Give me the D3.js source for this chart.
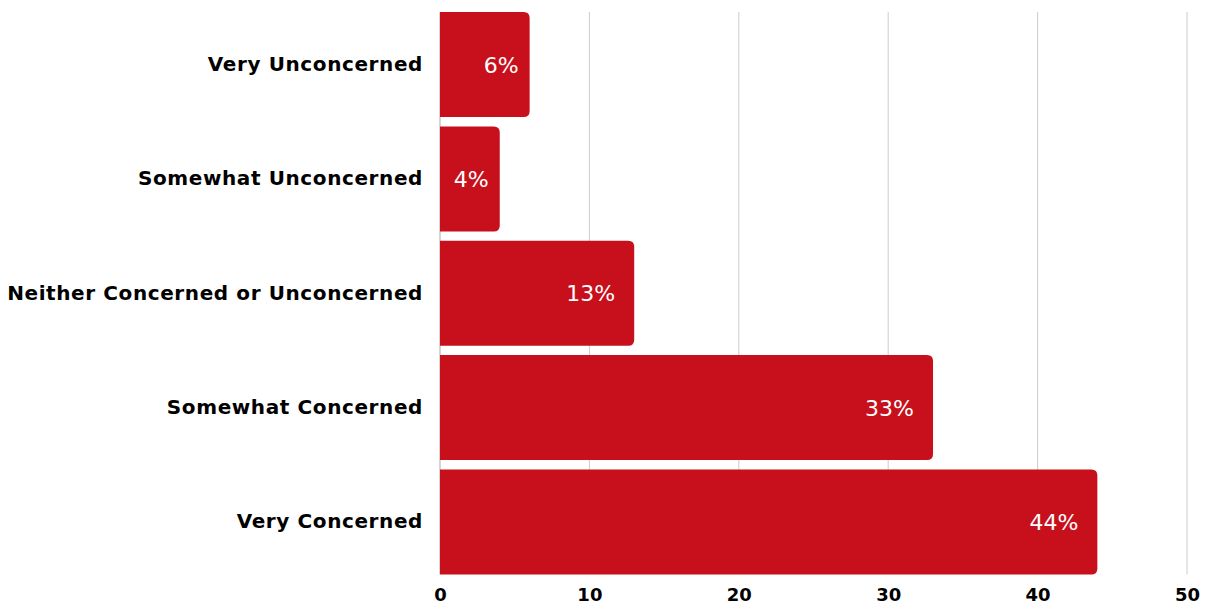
<!DOCTYPE html>
<html>
<head>
<meta charset="utf-8">
<script src="https://cdn.jsdelivr.net/npm/d3@7"></script>
<style>
  body { margin: 0; background: #fff; }
  svg { display: block; font-family: "DejaVu Sans", "Open Sans", sans-serif; }
  .cat { font-weight: 700; font-size: 20px; letter-spacing: 0.6px; fill: #000; }
  .val { font-size: 22px; fill: #fff; }
</style>
</head>
<body>
<div id="chart"></div>
<script>
"use strict";

var categories = ["Very Unconcerned", "Somewhat Unconcerned", "Neither Concerned or Unconcerned", "Somewhat Concerned", "Very Concerned"];
var values = [6, 4, 13, 33, 44];
var xTicks = [0, 10, 20, 30, 40, 50];

var width = 1208, height = 606;
var margin = { left: 440, right: 21, top: 7.5, bottom: 27 };

var x = d3.scaleLinear().domain([0, 50]).range([margin.left, width - margin.right]);
var y = d3.scaleBand().domain(categories)
  .range([margin.top, height - margin.bottom])
  .paddingInner(0.082).paddingOuter(0.04);

var svg = d3.select("#chart").append("svg").attr("width", width).attr("height", height);

var gridTop = y(categories[0]);
var gridBottom = y(categories[categories.length - 1]) + y.bandwidth();

// gridlines
svg.append("g").selectAll("line").data(xTicks.slice(1)).join("line")
  .attr("x1", function (d) { return x(d); }).attr("x2", function (d) { return x(d); })
  .attr("y1", gridTop).attr("y2", gridBottom)
  .attr("stroke", "#cccccc").attr("stroke-width", 1);

// baseline
svg.append("line")
  .attr("x1", x(0)).attr("x2", x(0)).attr("y1", gridTop).attr("y2", gridBottom)
  .attr("stroke", "#aaaaaa").attr("stroke-width", 1);

function barPath(x0, y0, w, h, r) {
  r = Math.min(r, w, h / 2);
  return "M" + x0 + "," + y0 +
    "H" + (x0 + w - r) +
    "Q" + (x0 + w) + "," + y0 + " " + (x0 + w) + "," + (y0 + r) +
    "V" + (y0 + h - r) +
    "Q" + (x0 + w) + "," + (y0 + h) + " " + (x0 + w - r) + "," + (y0 + h) +
    "H" + x0 + "Z";
}

var rows = categories.map(function (c, i) { return { cat: c, v: values[i] }; });

svg.append("g").selectAll("path").data(rows).join("path")
  .attr("d", function (d) { return barPath(x(0), y(d.cat), x(d.v) - x(0), y.bandwidth(), 6); })
  .attr("fill", "#c8101c");

svg.append("g").selectAll("text").data(rows).join("text")
  .attr("class", "val")
  .attr("x", function (d) { return x(d.v) - (d.v < 10 ? 11 : 19); })
  .attr("y", function (d) { return y(d.cat) + y.bandwidth() / 2 + 8; })
  .attr("text-anchor", "end")
  .text(function (d) { return d.v + "%"; });

// letter-spacing leaves a trailing gap, so nudge the anchor right
svg.append("g").selectAll("text").data(rows).join("text")
  .attr("class", "cat")
  .attr("x", 423)
  .attr("y", function (d) { return y(d.cat) + y.bandwidth() / 2 + 6.5; })
  .attr("text-anchor", "end")
  .text(function (d) { return d.cat; });

var axis = svg.append("g").attr("transform", "translate(0," + gridBottom + ")")
  .call(d3.axisBottom(x).tickValues(xTicks).tickSize(0).tickPadding(0));
axis.select(".domain").remove();
axis.selectAll("text")
  .attr("y", 27).attr("dy", null)
  .attr("font-family", "DejaVu Sans").attr("font-weight", 700)
  .attr("font-size", 18).attr("fill", "#000");
</script>
</body>
</html>
